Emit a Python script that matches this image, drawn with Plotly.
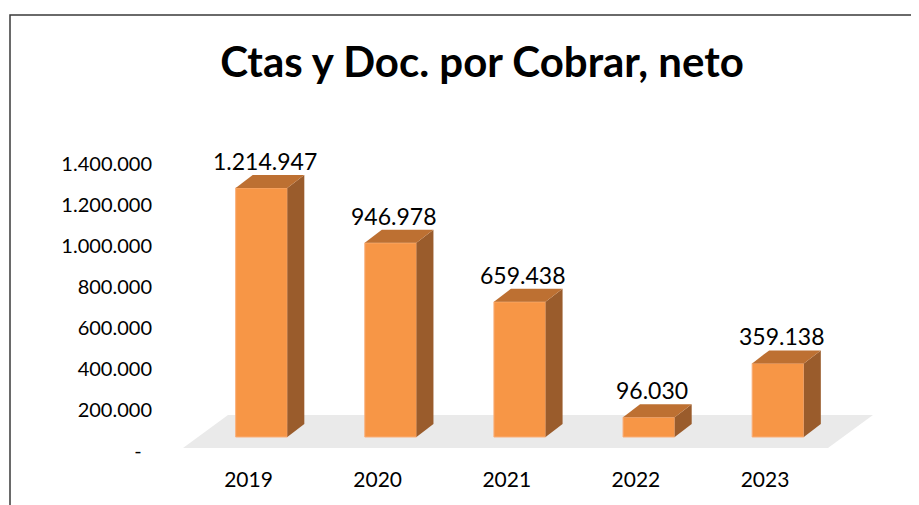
import plotly.graph_objects as go

# ---------------- data ----------------
years = ["2019", "2020", "2021", "2022", "2023"]
values = [1214947, 946978, 659438, 96030, 359138]
value_labels = ["1.214.947", "946.978", "659.438", "96.030", "359.138"]
tick_values = [0, 200000, 400000, 600000, 800000, 1000000, 1200000, 1400000]
tick_labels = ["-\u00a0\u00a0", "200.000", "400.000", "600.000", "800.000",
               "1.000.000", "1.200.000", "1.400.000"]
title_text = "Ctas y Doc. por Cobrar, neto"

# ---------------- layout geometry (screen pixels) ----------------
OFF = 8                                       # page body margin
W, H = 919 - OFF, 505 - OFF
S = lambda p: p - OFF                         # screen px -> figure px
PL, PR, PT, PB = S(160), S(900), S(100), S(465)   # plot area
X0_PX, X_STEP = S(261.5), 129.125             # first category centre / spacing
ZERO_BARS, ZERO_TICKS = S(437), S(451)        # pixel rows of value 0
PX_PER_UNIT = 205.0 / 1e6                     # pixels per value unit

x_range = [(PL - X0_PX) / X_STEP, (PR - X0_PX) / X_STEP]
y_range = [(ZERO_BARS - PB) / PX_PER_UNIT, (ZERO_BARS - PT) / PX_PER_UNIT]
y2_range = [(ZERO_TICKS - PB) / PX_PER_UNIT, (ZERO_TICKS - PT) / PX_PER_UNIT]

BAR_W = 0.40
DDX = 17 / X_STEP              # depth offset (x units)
DDY = 13 / PX_PER_UNIT         # depth offset (value units)

FRONT = "#F79646"
TOP = "#BD7032"
SIDE = "#9A5C2C"
FONT = "Lato, 'Open Sans', sans-serif"

xs = list(range(len(years)))

fig = go.Figure()
fig.add_trace(go.Bar(
    x=xs, y=values, width=BAR_W,
    marker=dict(color=FRONT, line=dict(color="#F9AE78", width=1)),
    hoverinfo="skip", showlegend=False,
))
# invisible trace so the tick-label axis is drawn
fig.add_trace(go.Scatter(x=[xs[0]], y=[0], yaxis="y2", mode="markers",
                         marker=dict(opacity=0), hoverinfo="skip", showlegend=False))

shapes = []
# floor
fl_left = xs[0] - 0.608
fl_right = xs[-1] + 0.387
fl_dx = 45 / X_STEP
fl_y0 = -11 / PX_PER_UNIT
fl_y1 = 22 / PX_PER_UNIT
shapes.append(dict(
    type="path", xref="x", yref="y", layer="below",
    path=f"M {fl_left} {fl_y0} L {fl_right} {fl_y0} L {fl_right + fl_dx} {fl_y1} "
         f"L {fl_left + fl_dx} {fl_y1} Z",
    fillcolor="#EAEAEA", line=dict(width=0),
))
for x, v in zip(xs, values):
    xl, xr = x - BAR_W / 2, x + BAR_W / 2
    # side face
    shapes.append(dict(
        type="path", xref="x", yref="y", layer="above",
        path=f"M {xr} 0 L {xr + DDX} {DDY} L {xr + DDX} {v + DDY} L {xr} {v} Z",
        fillcolor=SIDE, line=dict(width=0),
    ))
    # top face
    shapes.append(dict(
        type="path", xref="x", yref="y", layer="above",
        path=f"M {xl} {v} L {xl + DDX} {v + DDY} L {xr + DDX} {v + DDY} L {xr} {v} Z",
        fillcolor=TOP, line=dict(width=0),
    ))

# chart frame
fx = lambda px: (S(px) - PL) / (PR - PL)
fy = lambda py: (PB - S(py)) / (PB - PT)
shapes.append(dict(type="rect", xref="paper", yref="paper",
                   x0=fx(10), x1=fx(960), y0=fy(560), y1=fy(15),
                   line=dict(color="#3A3A3A", width=1.5), fillcolor="rgba(0,0,0,0)"))

annotations = []
for x, v, lab in zip(xs, values, value_labels):
    annotations.append(dict(
        x=x + 0.025, y=v + DDY, xref="x", yref="y", yshift=-2,
        text=lab, showarrow=False, yanchor="bottom", xanchor="center",
        font=dict(family=FONT, size=23, color="#000000"),
    ))

fig.update_layout(
    width=W, height=H, autosize=False,
    margin=dict(l=PL, r=W - PR, t=PT, b=H - PB, pad=0),
    paper_bgcolor="white", plot_bgcolor="rgba(0,0,0,0)",
    title=dict(text=f"<b>{title_text}</b>", x=S(482) / W, xanchor="center",
               y=1 - S(62) / H, yanchor="middle", xref="container", yref="container",
               font=dict(family=FONT, size=42, color="#000000")),
    xaxis=dict(range=x_range, tickmode="array",
               tickvals=[x - 13 / X_STEP for x in xs], ticktext=years,
               showgrid=False, zeroline=False, showline=False, ticks="",
               tickfont=dict(family=FONT, size=21, color="#000000")),
    yaxis=dict(range=y_range, visible=False, showgrid=False, zeroline=False),
    yaxis2=dict(range=y2_range, overlaying="y", side="left", anchor="x",
                tickmode="array", tickvals=tick_values, ticktext=tick_labels,
                showgrid=False, zeroline=False, showline=False, ticks="",
                ticklabelstandoff=7,
                tickfont=dict(family=FONT, size=20, color="#000000")),
    shapes=shapes, annotations=annotations, showlegend=False,
)

fig.write_html("out.html")
